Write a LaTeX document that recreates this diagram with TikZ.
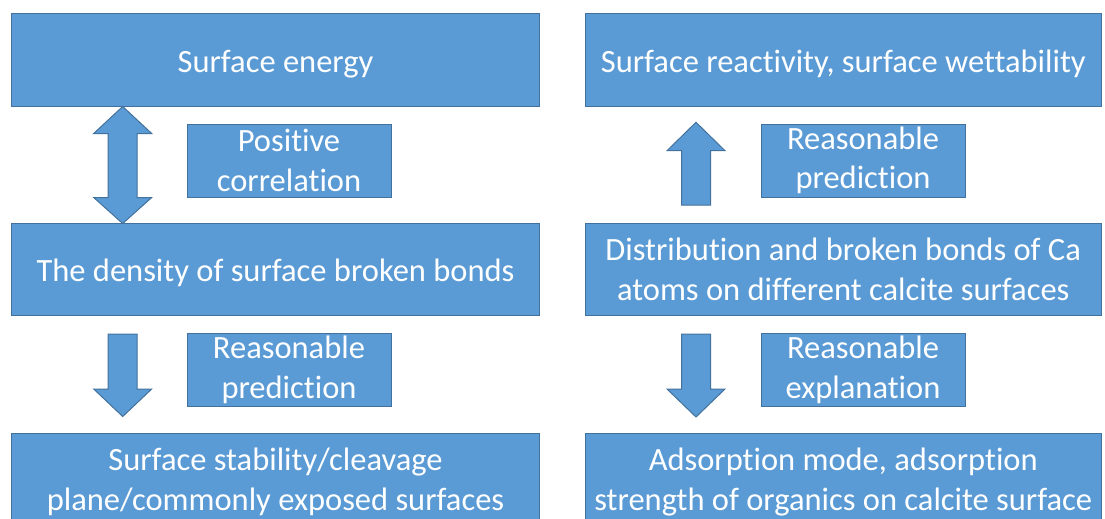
\documentclass[tikz,border=0pt]{standalone}
\usepackage{fontspec}
\setmainfont[Ligatures=NoCommon]{Carlito}
\definecolor{boxblue}{HTML}{5B9BD5}
\definecolor{edgeblue}{HTML}{41719C}
\tikzset{
  blk/.style={draw=edgeblue,fill=boxblue,line width=1pt,text=white,align=center,
    inner sep=0pt,font=\fontsize{32.5}{39.5}\selectfont,
    execute at begin node={\rule{0pt}{0.92em}}},
  bigbox/.style={blk,minimum height=92pt},
  tagbox/.style={blk,minimum width=204pt,minimum height=73pt},
  blkarrow/.style={draw=edgeblue,fill=boxblue,line width=1pt,line join=miter}
}
\begin{document}
\begin{tikzpicture}[x=1pt,y=-1pt]
        \useasboundingbox(0,0)rectangle(1105,519);
        % left column
        \node[bigbox,minimum width=528pt](se)at(275.5,60){Surface energy};
        \node[bigbox,minimum width=528pt](dbb)at(275.5,269.5){The density of surface broken bonds};
        \node[bigbox,minimum width=528pt,minimum height=98pt](ss)at(275.5,482){Surface stability/cleavage\\plane/commonly exposed surfaces};
        \node[tagbox](pc)at(289,160.5){Positive\\correlation};
        \node[tagbox](rpl)at(289,370){Reasonable\\prediction};
        % right column
        \node[bigbox,minimum width=516.5pt](sr)at(843.25,60){Surface reactivity, surface wettability};
        \node[bigbox,minimum width=516.5pt](dist)at(843.25,269.5){Distribution and broken bonds of Ca\\atoms on different calcite surfaces};
        \node[bigbox,minimum width=516.5pt,minimum height=98pt](ad)at(843.25,482){Adsorption mode, adsorption\\strength of organics on calcite surface};
        \node[tagbox](rpr)at(863,160.5){Reasonable\\prediction};
        \node[tagbox](re)at(863,370){Reasonable\\explanation};
        % block arrows
        \coordinate(lc)at(122.7,0);
        \coordinate(rc)at(696,0);
        \draw[blkarrow](se.south-|lc)--++(29,27)--++(-14.5,0)--++(0,64)--++(14.5,0)
            --++(-29,26)--++(-29,-26)--++(14.5,0)--++(0,-64)--++(-14.5,0)--cycle;
        \draw[blkarrow](dbb.south-|lc)++(-14.5,18)--++(0,55)--++(-14.5,0)--++(29,27.5)
            --++(29,-27.5)--++(-14.5,0)--++(0,-55)--cycle;
        \draw[blkarrow](dist.north-|rc)++(-14.5,-18)--++(0,-54.3)--++(-14.5,0)--++(29,-28.4)
            --++(29,28.4)--++(-14.5,0)--++(0,54.3)--cycle;
        \draw[blkarrow](dist.south-|rc)++(-14.5,18)--++(0,55)--++(-14.5,0)--++(29,28)
            --++(29,-28)--++(-14.5,0)--++(0,-55)--cycle;
\end{tikzpicture}
\end{document}
